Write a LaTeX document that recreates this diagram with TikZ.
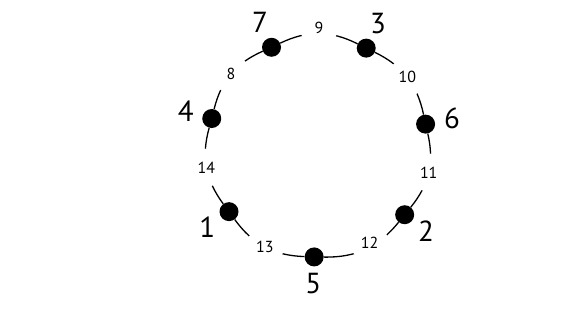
\documentclass[tikz,border=0pt]{standalone}
\usepackage{fontspec}
\setmainfont{PT Sans}
\usetikzlibrary{calc}
\tikzset{
  vertex/.style={circle, fill=black, inner sep=0pt, minimum size=19pt},
  vlabel/.style={font=\fontsize{29}{29}\selectfont, inner sep=0pt},
  elabel/.style={circle, fill=white, inner sep=0pt, minimum size=38pt,
    font=\fontsize{16}{16}\selectfont},
  edge/.style={line width=1.3pt, bend left=26},
}

\begin{document}
\begin{tikzpicture}[x=1pt, y=1pt]

  \useasboundingbox (0,0) rectangle (563,320);

  % Centre of the ring.
  \coordinate (o) at (318,173);

  % Vertices and their numbers, clockwise from the top.
  \foreach \n/\a in {7/115, 3/64, 6/12, 2/-38, 5/-92, 1/-144, 4/165} {
    \node[vertex] (v\n) at ($(o)+(\a:110)$) {};
    \node[vlabel] (l\n) at ($(o)+(\a:137)$) {\n};
  }

  % Edges with their numbers.
  \draw[edge] (v7) to node[elabel, yshift=6] (e9) {9} (v3);
  \draw[edge] (v3) to node[elabel] (e10) {10} (v6);
  \draw[edge] (v6) to node[elabel] (e11) {11} (v2);
  \draw[edge] (v2) to node[elabel, shift={(4,6)}] (e12) {12} (v5);
  \draw[edge] (v5) to node[elabel] (e13) {13} (v1);
  \draw[edge] (v1) to node[elabel] (e14) {14} (v4);
  \draw[edge] (v4) to node[elabel] (e8) {8} (v7);

\end{tikzpicture}
\end{document}
